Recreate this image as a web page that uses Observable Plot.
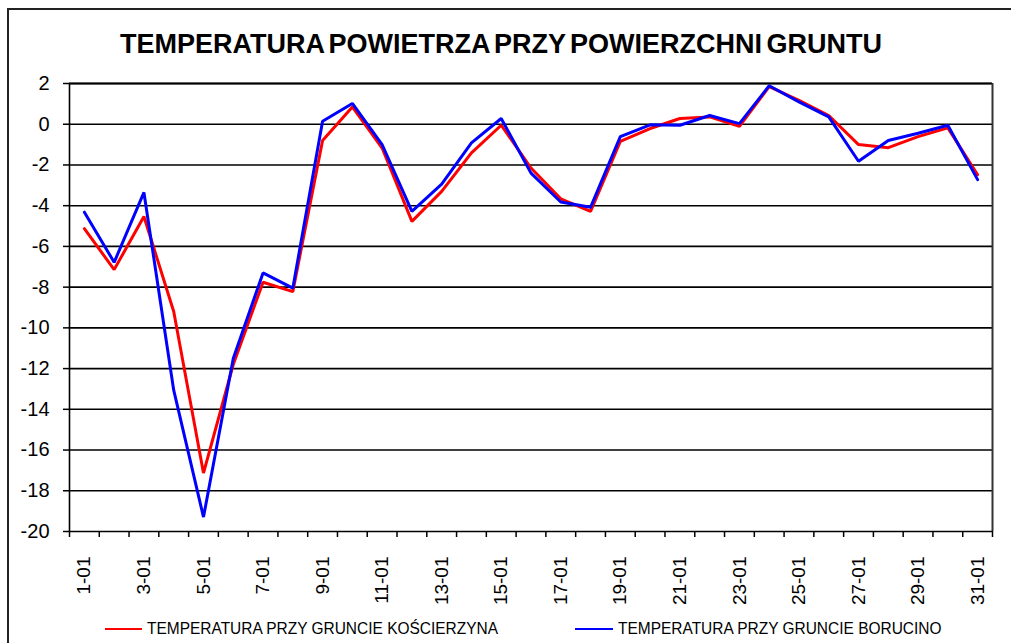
<!DOCTYPE html>
<html><head><meta charset="utf-8">
<script src="https://cdn.jsdelivr.net/npm/d3@7"></script>
<script src="https://cdn.jsdelivr.net/npm/@observablehq/plot@0.6"></script>
<style>
body{margin:0;background:#fff;font-family:"Liberation Sans",Arial,sans-serif;}
#wrap{position:relative;width:1011px;height:643px;overflow:hidden;background:#fff;}
#frame{position:absolute;left:7px;top:8px;width:1100px;height:700px;border-left:2px solid #222;border-top:2px solid #222;}
#chart{position:absolute;left:0;top:0;}
#title{position:absolute;left:0;width:1002px;top:29px;text-align:center;font-weight:bold;font-size:27px;line-height:30px;color:#000;word-spacing:-3px;white-space:nowrap;}
.lg-line{position:absolute;height:2px;top:628px;}
.lg-text{position:absolute;top:619px;font-size:16px;line-height:20px;color:#000;white-space:nowrap;transform:scaleX(0.967);transform-origin:0 0;}
</style></head>
<body>
<div id="wrap">
  <div id="frame"></div>
  <div id="chart"></div>
  <div id="title"></div>
  <div id="legend"></div>
</div>
<script>
const title = "TEMPERATURA POWIETRZA PRZY POWIERZCHNI GRUNTU";
const dates = ["1-01","2-01","3-01","4-01","5-01","6-01","7-01","8-01","9-01","10-01","11-01","12-01","13-01","14-01","15-01","16-01","17-01","18-01","19-01","20-01","21-01","22-01","23-01","24-01","25-01","26-01","27-01","28-01","29-01","30-01","31-01"];
const koscierzyna = [-5.13,-7.14,-4.53,-9.2,-17.13,-11.8,-7.76,-8.22,-0.8,0.85,-1.17,-4.77,-3.3,-1.41,-0.05,-2.15,-3.66,-4.28,-0.84,-0.21,0.28,0.36,-0.1,1.85,1.17,0.43,-1.0,-1.15,-0.61,-0.18,-2.48];
const borucino = [-4.32,-6.78,-3.35,-13.06,-19.29,-11.5,-7.3,-8.05,0.15,1.02,-1.0,-4.28,-2.94,-0.92,0.28,-2.4,-3.82,-4.08,-0.61,-0.03,-0.05,0.43,0.03,1.89,1.1,0.36,-1.82,-0.8,-0.44,-0.05,-2.72];
const yTicks = [2,0,-2,-4,-6,-8,-10,-12,-14,-16,-18,-20];
const seriesNames = ["TEMPERATURA PRZY GRUNCIE KOŚCIERZYNA","TEMPERATURA PRZY GRUNCIE BORUCINO"];
const seriesColors = ["#ff0000","#0000ff"];

const labelDates = dates.filter((d,i)=>i%2===0);
const boundaries = d3.range(0, dates.length+1).map(i=>i+0.5);

const chart = Plot.plot({
  width:1011, height:612,
  marginLeft:69, marginRight:19, marginTop:83, marginBottom:81,
  x:{type:"linear", domain:[0.5, dates.length+0.5]},
  y:{domain:[-20,2]},
  style:{fontFamily:"'Liberation Sans', Arial, sans-serif", fontSize:"20px", color:"#000", background:"transparent", overflow:"visible"},
  marks:[
    Plot.ruleY(yTicks, {stroke:"#000", strokeWidth:1.6, strokeOpacity:1}),
    Plot.ruleY([2], {stroke:"#000", strokeWidth:2.2}),
    Plot.ruleX([0.5], {stroke:"#000", strokeWidth:1.6}),
    Plot.ruleX([dates.length+0.5], {stroke:"#333", strokeWidth:2}),
    Plot.axisY({ticks:yTicks, tickSize:6, tickPadding:14, tickFormat:d=>String(d), fontSize:20, stroke:"#000", strokeWidth:1.5}),
    Plot.axisX({ticks:boundaries, tickSize:6, tickFormat:()=>"", stroke:"#000", strokeWidth:1.5}),
    Plot.text(labelDates, {x:d=>dates.indexOf(d)+1, text:d=>d, frameAnchor:"bottom", dy:25, rotate:-90, textAnchor:"end", lineAnchor:"middle", fontSize:19, fill:"#000"}),
    Plot.line(dates, {x:(d,i)=>i+1, y:(d,i)=>koscierzyna[i], stroke:seriesColors[0], strokeWidth:3, strokeLinejoin:"miter"}),
    Plot.line(dates, {x:(d,i)=>i+1, y:(d,i)=>borucino[i], stroke:seriesColors[1], strokeWidth:3, strokeLinejoin:"miter"})
  ]
});
document.getElementById("chart").appendChild(chart);
document.getElementById("title").textContent = title;

const legend = document.getElementById("legend");
const lgPos = [{line:105, w:37, text:147},{line:575, w:38, text:618}];
seriesNames.forEach((n,i)=>{
  const l = document.createElement("div");
  l.className="lg-line"; l.style.left=lgPos[i].line+"px"; l.style.width=lgPos[i].w+"px"; l.style.background=seriesColors[i];
  legend.appendChild(l);
  const t = document.createElement("div");
  t.className="lg-text"; t.style.left=lgPos[i].text+"px"; t.textContent=n;
  legend.appendChild(t);
});
</script>
</body></html>
